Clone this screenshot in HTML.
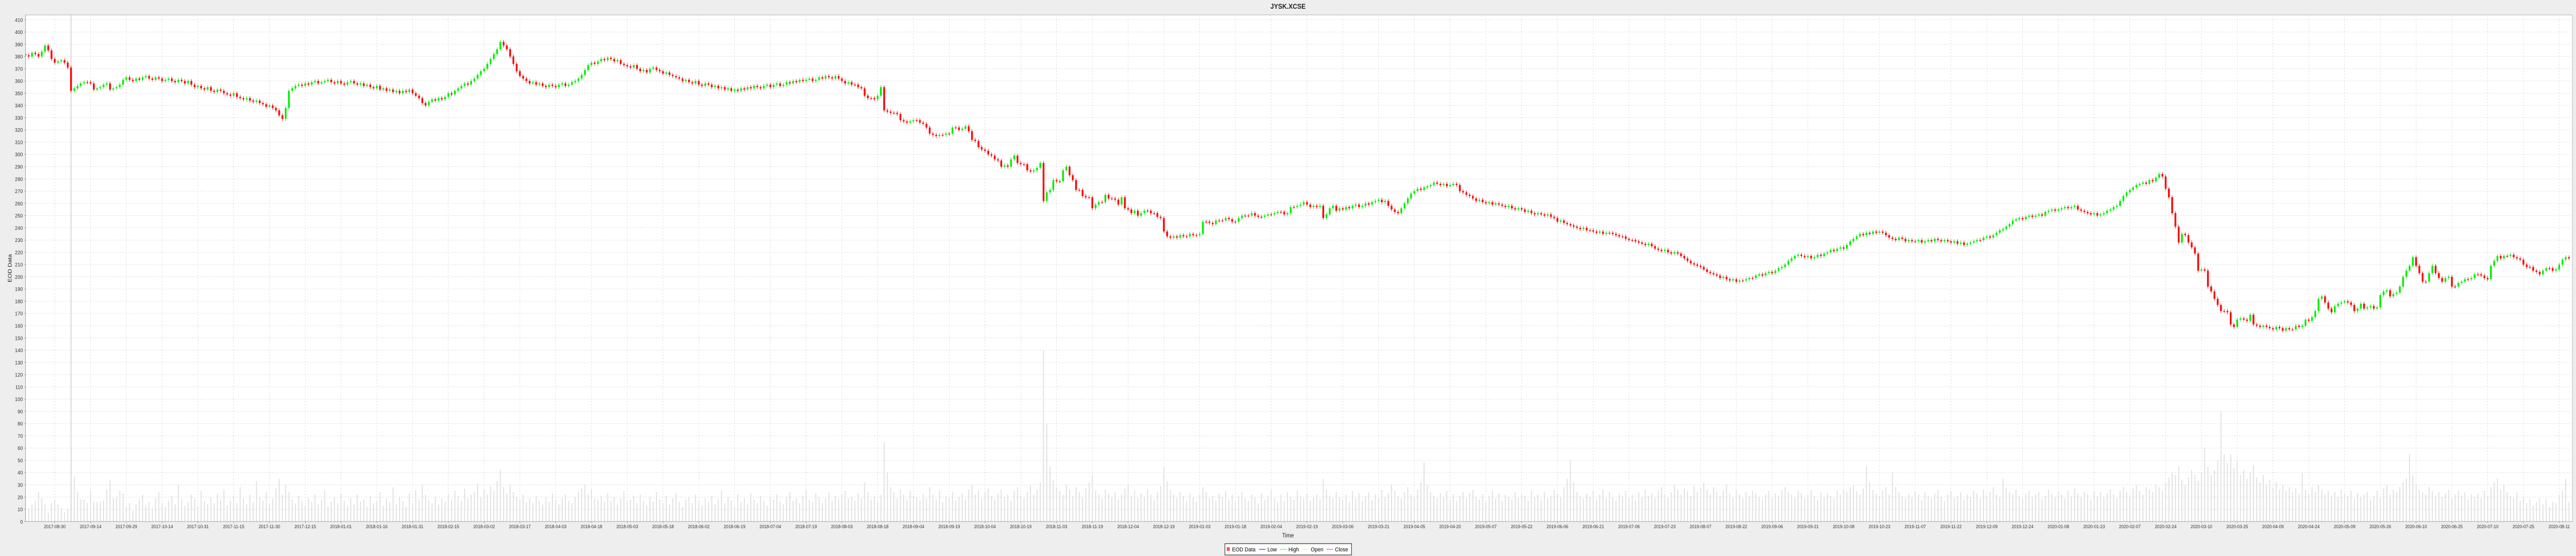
<!DOCTYPE html>
<html><head><meta charset="utf-8"><title>JYSK.XCSE</title>
<style>
html,body{margin:0;padding:0;background:#eeeeee;width:100%;height:100%;overflow:hidden;}
svg{display:block;position:absolute;left:0;top:0;width:100vw;height:100vh;font-family:"Liberation Sans",Arial,sans-serif;}
</style></head>
<body>
<svg id="chart" viewBox="0 0 5760 1080" preserveAspectRatio="none" xmlns="http://www.w3.org/2000/svg">
<rect x="0" y="0" width="5760" height="1080" fill="#eeeeee"/>
<text x="2880" y="17" text-anchor="middle" font-size="14" font-weight="bold" fill="#222">JYSK.XCSE</text>
<rect x="57" y="29" width="5695" height="984" fill="#ffffff" stroke="#b0b0b0" stroke-width="1"/>
<g id="grid"></g>
<g id="vol"></g>
<line id="cross" x1="0" y1="29" x2="0" y2="1013" stroke="#d4d4d4" stroke-width="2"/>
<g id="candles"></g>
<g id="yaxis"></g>
<g id="xaxis"></g>
<line x1="57" y1="29" x2="57" y2="1013" stroke="#a0a0a0" stroke-width="1"/>
<line x1="57" y1="1013" x2="5752" y2="1013" stroke="#a0a0a0" stroke-width="1"/>
<text transform="translate(26,521) rotate(-90)" text-anchor="middle" font-size="12" fill="#222">EOD Data</text>
<text x="2880" y="1044" text-anchor="middle" font-size="12" fill="#222">Time</text>
<g>
<rect x="2739" y="1056" width="283" height="22" fill="#ffffff" stroke="#000" stroke-width="1"/>
<rect x="2743" y="1063" width="7" height="7" fill="#ff5555"/>
<text x="2755" y="1071" font-size="11.5" fill="#000">EOD Data</text>
<line x1="2815" y1="1067" x2="2830" y2="1067" stroke="#5555ff" stroke-width="1.5"/>
<text x="2834" y="1071" font-size="11.5" fill="#000">Low</text>
<line x1="2862" y1="1067" x2="2877" y2="1067" stroke="#55ff55" stroke-width="1.5"/>
<text x="2881" y="1071" font-size="11.5" fill="#000">High</text>
<line x1="2912" y1="1067" x2="2927" y2="1067" stroke="#ffff55" stroke-width="1.5"/>
<text x="2931" y="1071" font-size="11.5" fill="#000">Open</text>
<line x1="2966" y1="1067" x2="2981" y2="1067" stroke="#ff55ff" stroke-width="1.5"/>
<text x="2985" y="1071" font-size="11.5" fill="#000">Close</text>
</g>
</svg>
<script>
const xLabels = ["2017-08-30","2017-09-14","2017-09-29","2017-10-14","2017-10-31","2017-11-15","2017-11-30","2017-12-15",
"2018-01-01","2018-01-16","2018-01-31","2018-02-15","2018-03-02","2018-03-17","2018-04-03","2018-04-18","2018-05-03","2018-05-18","2018-06-02","2018-06-19","2018-07-04","2018-07-19","2018-08-03","2018-08-18","2018-09-04","2018-09-19","2018-10-04","2018-10-19","2018-11-03","2018-11-19","2018-12-04","2018-12-19",
"2019-01-03","2019-01-18","2019-02-04","2019-02-19","2019-03-06","2019-03-21","2019-04-05","2019-04-20","2019-05-07","2019-05-22","2019-06-06","2019-06-21","2019-07-06","2019-07-23","2019-08-07","2019-08-22","2019-09-06","2019-09-21","2019-10-08","2019-10-23","2019-11-07","2019-11-22","2019-12-09","2019-12-24",
"2020-01-08","2020-01-23","2020-02-07","2020-02-24","2020-03-10","2020-03-25","2020-04-09","2020-04-24","2020-05-09","2020-05-26","2020-06-10","2020-06-25","2020-07-10","2020-07-25","2020-08-11"];
const yTicks = [0,10,20,30,40,50,60,70,80,90,100,110,120,130,140,150,160,170,180,190,200,210,220,230,240,250,260,270,280,290,300,310,320,330,340,350,360,370,380,390,400,410];
const firstOpen = [382];
const close = [
381,380,383,382,380,384,389,385,378,375,
376,377,375,371,352,354,356,358,359,359,
358,353,354,355,357,358,353,354,355,357,
361,363,361,360,362,361,363,364,362,361,
363,362,360,361,362,360,359,361,360,358,
360,357,355,356,354,353,355,352,351,353,
352,350,349,348,350,347,346,345,346,344,
343,344,342,341,339,340,338,336,332,329,
338,352,354,356,357,356,358,357,359,360,
358,359,360,361,359,358,360,358,357,359,
360,358,357,358,356,357,355,354,356,353,
354,352,353,351,352,350,352,351,353,350,
348,346,342,340,343,345,344,346,345,347,
350,349,352,354,356,358,357,360,362,365,
368,370,374,378,382,386,392,389,386,380,
374,368,364,362,360,358,359,357,358,356,
355,357,356,355,357,358,356,357,359,360,
362,365,369,373,375,374,376,378,377,379,
378,376,377,374,373,372,371,373,370,368,
369,367,370,371,369,368,366,367,365,364,
363,362,360,361,359,358,360,357,356,358,
357,355,356,354,355,353,354,352,353,352,
354,353,355,354,356,355,354,356,357,355,
357,358,356,357,359,358,360,359,361,360,
361,362,360,361,363,362,364,363,362,364,
362,360,358,359,
357,357,355,354,348,346,346,345,348,355,
336,335,334,334,333,328,327,326,327,328,
328,326,325,322,317,316,315,316,316,317,
317,322,322,320,321,323,319,312,311,306,
304,303,300,299,296,295,290,291,290,296,
299,293,292,292,287,286,287,289,293,262,
269,271,279,278,278,287,290,283,279,271,
271,266,265,265,256,259,261,261,267,264,
264,263,259,265,256,255,252,254,250,252,
254,254,252,252,249,248,237,233,
232,233,232,234,233,233,235,234,234,235,
245,245,244,243,246,246,246,248,247,245,
245,248,250,250,250,252,250,249,249,250,
251,251,252,253,253,251,252,257,257,258,
259,261,259,257,258,257,258,248,251,256,
258,254,256,
255,257,256,258,259,257,
258,260,259,261,262,263,261,262,258,255,
253,252,256,260,264,268,270,272,271,273,
274,275,277,276,275,276,274,275,276,275,
270,269,267,266,264,262,263,261,260,261,
259,260,259,258,257,258,256,255,256,255,
253,254,252,251,252,251,250,251,249,248,
245,246,244,243,242,241,240,239,240,238,
238,237,236,237,235,236,236,235,234,233,
233,231,230,230,229,228,227,226,227,225,
223,222,221,222,220,219,220,219,217,215,
213,211,210,209,208,206,204,203,202,201,
199,200,198,197,198,196,197,197,198,199,
199,201,202,201,203,204,203,205,207,208,
210,213,215,217,218,217,216,217,215,216,
218,217,219,220,222,221,223,224,223,226,
229,231,233,235,234,236,235,237,236,237,
236,234,232,231,230,232,231,229,230,229,
229,230,228,229,230,229,231,230,229,230,
229,228,229,227,228,226,227,228,229,230,
230,232,233,232,234,236,238,239,241,243,
246,247,248,247,249,250,249,250,251,250,
253,254,255,254,255,256,257,256,257,258,
255,254,253,252,251,252,250,251,
252,254,255,257,258,262,266,269,271,273,
275,276,277,276,279,278,281,284,282,272,
265,252,241,228,235,234,228,224,219,205,
206,205,192,188,182,177,172,172,171,161,
159,165,166,165,164,169,161,160,159,160,
159,158,157,159,158,156,158,157,157,160,
159,160,165,164,167,172,182,184,179,174,
171,176,178,179,180,179,177,172,174,178,
174,175,176,174,175,185,188,189,184,186,
187,192,200,205,209,216,209,203,196,196,
203,209,203,199,196,199,200,192,192,195,
196,198,198,199,202,202,201,199,198,209,
213,217,215,217,217,218,216,215,214,210,
208,208,205,204,202,205,207,207,205,206,
210,214,216,215];
const volume = [
20,11,14,17,24,19,14,7,15,18,14,11,8,10,62,37,24,18,18,15,
25,16,16,16,17,26,34,19,20,25,23,12,15,9,14,18,22,13,16,11,
19,24,15,12,17,21,14,30,18,13,16,22,19,12,25,17,14,20,15,23,
18,26,13,17,21,15,28,19,14,22,16,33,20,17,24,15,19,27,35,22,
30,24,18,15,21,17,13,19,16,22,14,18,25,12,16,20,15,23,17,13,
19,14,22,16,18,12,21,15,17,24,13,19,16,28,14,20,17,12,23,15,
26,18,30,22,17,15,20,14,19,16,23,18,25,21,17,27,19,22,24,31,
20,26,22,29,25,33,42,28,23,30,24,20,18,22,16,19,15,21,17,14,
20,16,23,18,14,19,22,17,15,20,
24,27,30,22,26,19,18,21,16,23,17,20,14,19,25,16,18,21,15,22,
17,13,20,16,24,18,15,21,14,19,23,16,12,18,20,15,22,17,13,19,
16,21,14,18,25,15,20,17,12,22,16,19,14,23,18,15,21,17,13,20,
18,22,16,14,20,24,17,19,15,21,26,18,16,23,20,15,19,24,17,21,
18,22,25,19,
20,17,23,19,32,24,18,21,16,22,65,40,28,24,19,26,22,18,25,21,
20,17,23,19,28,22,18,25,16,21,19,24,17,20,23,18,26,30,22,25,
19,24,27,21,18,23,26,20,22,17,25,28,21,19,24,30,22,26,32,140,
80,45,34,28,25,22,30,26,21,28,24,20,27,32,38,25,22,19,26,23,
20,24,18,22,27,30,21,25,19,23,20,26,22,18,24,29,45,33,26,22,
19,24,21,17,23,20,16,22,28,24,19,21,17,23,20,25,18,22,16,21,
24,19,17,22,20,15,23,18,21,26,19,16,22,17,24,20,18,25,21,19,
23,17,20,22,18,35,26,21,19,24,20,18,22,16,25,19,23,17,21,24,
18,22,19,26,20,23,30,25,21,19,24,28,22,20,26,32,48,30,24,21,
19,23,20,25,18,22,17,21,24,19,23,26,20,18,22,16,21,25,19,23,
17,22,20,18,24,19,23,21,17,25,20,22,18,24,19,21,26,23,20,28,
35,50,32,24,21,19,23,20,25,18,22,26,19,24,20,17,23,21,25,19,
22,18,24,20,26,21,23,19,25,28,22,20,24,30,26,22,27,25,21,29,
24,27,32,26,22,28,24,21,25,30,23,20,26,22,19,24,21,25,23,20,
18,22,25,19,23,21,26,28,24,22,20,25,23,19,22,26,21,18,24,20,
23,21,19,25,22,26,24,28,30,25,22,27,45,32,26,23,21,25,28,22,
40,28,24,21,19,23,20,25,22,18,24,21,19,23,26,20,17,22,25,19,
21,24,18,22,20,25,23,19,26,21,24,28,22,20,35,27,24,22,26,21,
19,23,25,20,22,24,18,21,26,23,20,24,22,19,25,21,27,23,20,24,
22,18,25,21,24,20,23,26,22,19,25,28,24,21,27,30,25,22,28,26,
24,30,28,25,32,36,40,38,45,34,30,36,42,38,33,40,60,45,38,42,
50,90,55,48,55,44,50,38,42,35,40,46,36,32,38,30,34,28,32,26,
30,25,28,24,27,23,40,26,22,28,24,30,26,22,25,21,24,20,26,23,
21,25,19,23,20,22,24,18,21,25,19,27,30,22,26,24,28,32,35,55,
38,30,26,24,22,28,25,21,24,20,23,26,19,22,25,21,24,18,22,20,
23,19,25,21,28,32,35,26,30,24,21,19,24,17,20,15,18,13,16,19,
14,18,12,16,15,22,25,35,16];
const open = firstOpen.concat(close.slice(0, close.length - 1));
const crossIndex = 14;
const firstLabelIndex = 9;
const labelEvery = 11;

const NS = "http://www.w3.org/2000/svg";
const L = 57, R = 5752, T = 29, B = 1013;
const STEP = 80 / 11;
const xScale = i => L + i * STEP;
const yScale = v => B - v * ((B - 38.5) / 410);
function mk(tag, attrs, parent) {
  const e = document.createElementNS(NS, tag);
  for (const k in attrs) e.setAttribute(k, attrs[k]);
  parent.appendChild(e);
  return e;
}
const grid = document.getElementById('grid');
const yaxis = document.getElementById('yaxis');
const xaxis = document.getElementById('xaxis');
yTicks.forEach(v => {
  const y = yScale(v);
  const g = mk('line', {x1: L, x2: R, y1: y, y2: y, stroke: '#dcdcdc', 'stroke-width': 1, 'stroke-dasharray': '3,3'}, grid);
  
  
  const tk = mk('line', {x1: L - 3, x2: L, y1: y, y2: y, stroke: '#999', 'stroke-width': 1}, yaxis);
  
  
  const t = mk('text', {x: L - 6, y: y + 3.8, 'text-anchor': 'end', 'font-size': 10.5, fill: '#333'}, yaxis);
  
  
  t.textContent = v;
});
xLabels.forEach((s, k) => {
  const x = xScale(firstLabelIndex + k * labelEvery);
  const g = mk('line', {x1: x, x2: x, y1: T, y2: B, stroke: '#dcdcdc', 'stroke-width': 1, 'stroke-dasharray': '3,3'}, grid);
  
  
  const tk = mk('line', {x1: x, x2: x, y1: B, y2: B + 3, stroke: '#999', 'stroke-width': 1}, xaxis);
  
  
  const t = mk('text', {x: x, y: B + 13, 'text-anchor': 'middle', 'font-size': 9.5, fill: '#333'}, xaxis);
  
  
  t.textContent = s;
});
const cx = xScale(crossIndex);
const cross = document.getElementById('cross');
cross.setAttribute('x1', cx); cross.setAttribute('x2', cx);

const volG = document.getElementById('vol');
volume.forEach((v, i) => {
  const x = xScale(i);
  if (x > R) return;
  const y = yScale(v);
  const r = mk('rect', {x: x - 1, y: y, width: 2, height: B - y, fill: '#dedede'}, volG);
  
  
});
const cG = document.getElementById('candles');
const n = Math.min(open.length, close.length);
for (let i = 0; i < n; i++) {
  const x = xScale(i);
  if (x > R) break;
  const o = open[i], c = close[i];
  const up = c > o;
  const col = up ? '#00ee00' : '#ff0000';
  const hi = Math.max(o, c) + 1.6, lo = Math.min(o, c) - 1.6;
  const w = mk('line', {x1: x, x2: x, y1: yScale(hi), y2: yScale(lo), stroke: col, 'stroke-width': 1}, cG);
  
  
  const yt = yScale(Math.max(o, c)), yb = yScale(Math.min(o, c));
  const bx = Math.max(L, x - 2);
  const b = mk('rect', {x: bx, y: yt, width: x + 2 - bx, height: Math.max(1.5, yb - yt), fill: col}, cG);
  
  
}
</script>
</body></html>
